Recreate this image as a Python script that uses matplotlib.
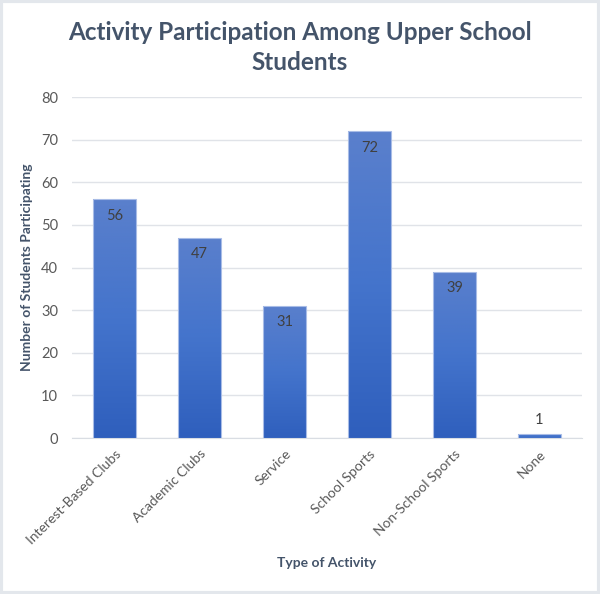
import matplotlib
matplotlib.use("Agg")
import matplotlib.pyplot as plt
import numpy as np
from matplotlib.colors import LinearSegmentedColormap
from matplotlib.patches import Rectangle

categories = ["Interest-Based Clubs", "Academic Clubs", "Service", "School Sports", "Non-School Sports", "None"]
values = [56, 47, 31, 72, 39, 1]
yticks = [0, 10, 20, 30, 40, 50, 60, 70, 80]

plt.rcParams['font.family'] = ['Lato', 'DejaVu Sans']
fig = plt.figure(figsize=(6, 5.94), dpi=100)
fig.patch.set_facecolor('white')
# outer border
fig.add_artist(Rectangle((0.002, 0.002), 0.996, 0.996, transform=fig.transFigure,
                         fill=False, edgecolor='#e3e7ec', linewidth=3))

ax = fig.add_axes([0.12, 0.2626, 0.85, 0.574])
x = np.arange(len(categories))
width = 0.5
bars = ax.bar(x, values, width=width, color='#4474cc', edgecolor='none', zorder=3)

cmap = LinearSegmentedColormap.from_list('g', ['#2e5ebc', '#4474cc', '#5b80cc'])
grad = np.linspace(0, 1, 256).reshape(-1, 1)
for b in bars:
    x0, y0 = b.get_x(), b.get_y()
    w, h = b.get_width(), b.get_height()
    im = ax.imshow(grad, cmap=cmap, origin='lower', aspect='auto', interpolation='bilinear',
                   extent=(x0 - 0.05, x0 + w + 0.05, y0 - 1, y0 + h + 1), zorder=3.5)
    im.set_clip_path(b)
# light outline on top of gradient
ax.bar(x, values, width=width, color='none', edgecolor='#a8bce6', linewidth=0.8, zorder=4)

for xi, v in zip(x, values):
    if v > 5:
        ax.text(xi, v - 2.2, str(v), ha='center', va='top', fontsize=10.5, color='#404040', zorder=5)
    else:
        ax.text(xi, v + 1.5, str(v), ha='center', va='bottom', fontsize=10.5, color='#404040', zorder=5)

ax.set_xlim(-0.5, len(categories) - 0.5)
ax.set_ylim(0, 80)
ax.set_yticks(yticks)
ax.set_xticks(x)
ax.set_xticklabels(categories, rotation=45, ha='right', rotation_mode='anchor', fontsize=10, color='#595959')
ax.tick_params(axis='y', labelsize=10.5, colors='#595959', length=0, pad=10)
ax.tick_params(axis='x', length=0, pad=7)
ax.grid(axis='y', color='#e0e3e8', linewidth=1, zorder=0)
ax.set_axisbelow(True)
for s in ['top', 'right', 'left']:
    ax.spines[s].set_visible(False)
ax.spines['bottom'].set_color('#d9dde3')

ax.set_ylabel("Number of Students Participating", fontsize=10, fontweight='bold', color='#44546a', labelpad=6)
ax.set_xlabel("Type of Activity", fontsize=10, fontweight='bold', color='#44546a', labelpad=8)
fig.text(0.5, 1 - 40 / 594, "Activity Participation Among Upper School", ha='center', va='baseline',
         fontsize=17.5, fontweight='bold', color='#44546a')
fig.text(0.5, 1 - 70 / 594, "Students", ha='center', va='baseline',
         fontsize=17.5, fontweight='bold', color='#44546a')

fig.savefig("out.png", dpi=100, facecolor='white')
